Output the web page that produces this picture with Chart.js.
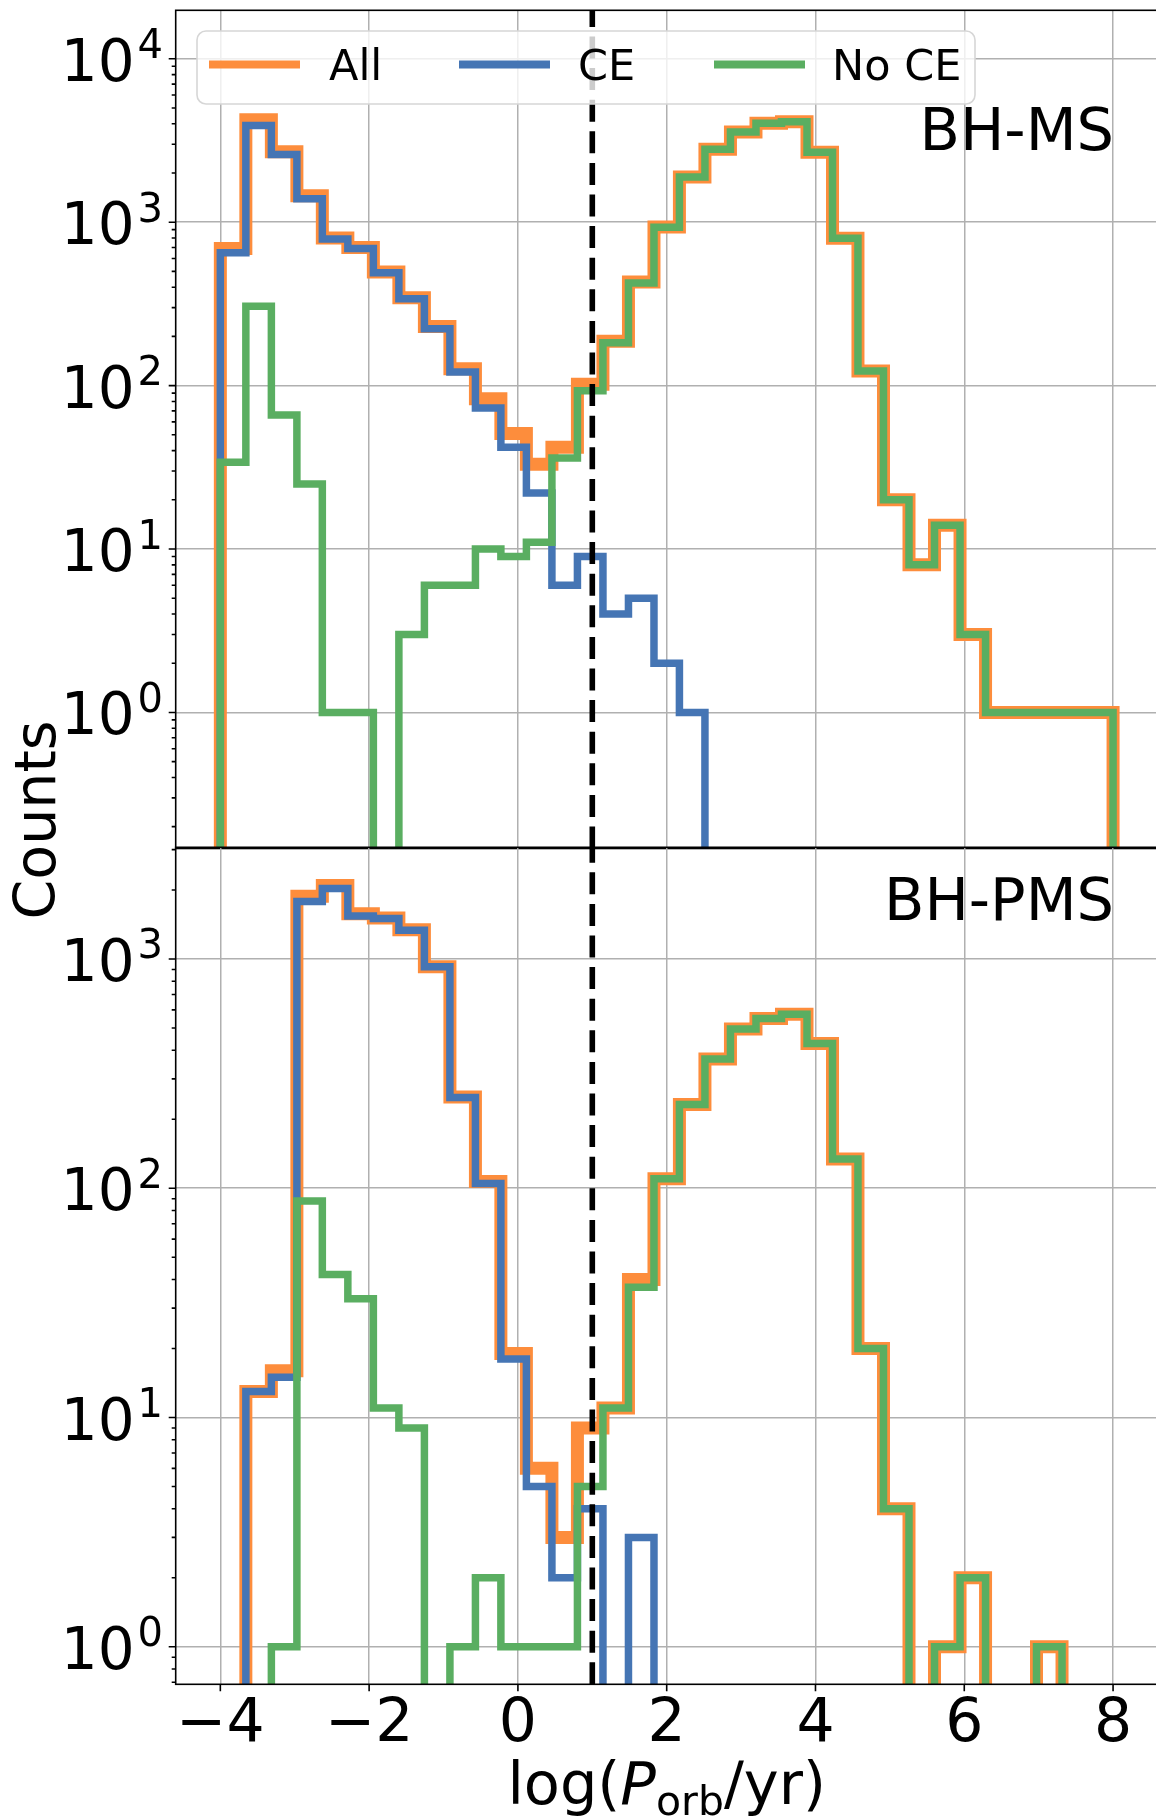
<!DOCTYPE html>
<html>
<head>
<meta charset="utf-8">
<script src="https://cdn.jsdelivr.net/npm/chart.js@4.4.0/dist/chart.umd.min.js"></script>
<style>
html, body { margin: 0; padding: 0; background: #fff; overflow: hidden; }
#wrap { position: relative; width: 1156px; height: 1818px; overflow: hidden; }
canvas { position: absolute; left: 0; top: 0; }
</style>
</head>
<body>
<div id="wrap">
  <canvas id="topChart" width="1160" height="1818"></canvas>
  <canvas id="bottomChart" width="1160" height="1818"></canvas>
</div>
<script>
// log10(P_orb / yr) bin edges, shared by both panels
const BIN_EDGES = [-4.000, -3.657, -3.314, -2.971, -2.629, -2.286, -1.943, -1.600, -1.257, -0.914,
  -0.571, -0.229, 0.114, 0.457, 0.800, 1.143, 1.486, 1.829, 2.171, 2.514, 2.857, 3.200,
  3.543, 3.886, 4.229, 4.571, 4.914, 5.257, 5.600, 5.943, 6.286, 6.629, 6.971, 7.314, 7.657, 8.000];

// BH-MS counts per bin
const MS_ALL  = [690, 4230, 2700, 1450, 800, 700, 495, 345, 230, 127, 83, 51, 33, 42, 102, 187, 430, 933,
  1891, 2790, 3560, 4030, 4120, 2680, 797, 123, 20, 8, 14, 3, 1, 1, 1, 1, 1];
const MS_CE   = [650, 3900, 2600, 1390, 790, 690, 490, 340, 223, 121, 73, 42, 22, 6, 9, 4, 5, 2,
  1, 0, 0, 0, 0, 0, 0, 0, 0, 0, 0, 0, 0, 0, 0, 0, 0];
const MS_NOCE = [34, 306, 66, 25, 1, 1, 0, 3, 6, 6, 10, 9, 11, 36, 93, 183, 425, 931,
  1890, 2790, 3560, 4030, 4120, 2680, 797, 123, 20, 8, 14, 3, 1, 1, 1, 1, 1];

// BH-PMS counts per bin
const PMS_ALL  = [0, 13, 16, 1880, 2090, 1575, 1511, 1342, 925, 250, 107, 19, 6, 3, 9, 11, 40, 110,
  232, 366, 495, 550, 574, 428, 134, 20, 4, 0, 1, 2, 0, 0, 1, 0, 0];
const PMS_CE   = [0, 13, 15, 1780, 2030, 1540, 1500, 1333, 925, 249, 105, 18, 5, 2, 4, 0, 3, 0,
  0, 0, 0, 0, 0, 0, 0, 0, 0, 0, 0, 0, 0, 0, 0, 0, 0];
const PMS_NOCE = [0, 0, 1, 88, 42, 33, 11, 9, 0, 1, 2, 1, 1, 1, 5, 11, 37, 110,
  232, 366, 495, 550, 574, 428, 134, 20, 4, 0, 1, 2, 0, 0, 1, 0, 0];

const SERIES_NAMES = ['All', 'CE', 'No CE'];
const PANEL_NAMES = ['BH-MS', 'BH-PMS'];

const X_TICKS = [-4, -2, 0, 2, 4, 6, 8];
const X_TICK_LABELS = ['\u22124', '\u22122', '0', '2', '4', '6', '8'];
const MS_Y_TICKS = [1, 10, 100, 1000, 10000];
const MS_Y_EXP = ['0', '1', '2', '3', '4'];
const PMS_Y_TICKS = [1, 10, 100, 1000];
const PMS_Y_EXP = ['0', '1', '2', '3'];
const CE_LIMIT = 1;   // dashed line, log P = 1

const X_MIN = -4.6, X_MAX = 8.6;
const MS_Y_MIN = 0.147, MS_Y_MAX = 19800;
const PMS_Y_MIN = 0.686, PMS_Y_MAX = 3070;

const COLORS = ['#fd8d3c', '#4575b4', '#5aae61'];
const WIDTHS = [13, 7.5, 7.5];
const FONT = '"DejaVu Sans", "Liberation Sans", sans-serif';
const ZERO_DRAW = 1e-3;   // empty bins are drawn below the axis, like matplotlib does

function stepPoints(counts) {
  const pts = [{ x: BIN_EDGES[0], y: ZERO_DRAW }];
  counts.forEach((c, i) => pts.push({ x: BIN_EDGES[i], y: c > 0 ? c : ZERO_DRAW }));
  pts.push({ x: BIN_EDGES[BIN_EDGES.length - 1], y: ZERO_DRAW });
  return pts;
}

function histDatasets(all, ce, noce) {
  return [all, ce, noce].map((counts, i) => ({
    label: SERIES_NAMES[i],
    data: stepPoints(counts),
    borderColor: COLORS[i],
    borderWidth: WIDTHS[i],
    order: 3 - i,
    stepped: 'before',
    pointRadius: 0,
    tension: 0,
    fill: false,
    borderJoinStyle: 'miter',
    borderCapStyle: 'butt',
    clip: 0
  }));
}

function drawDashed(chart) {
  const { ctx, chartArea: a } = chart;
  const px = chart.scales.x.getPixelForValue(CE_LIMIT);
  ctx.save();
  ctx.strokeStyle = '#000';
  ctx.lineWidth = 5.6;
  ctx.setLineDash([22, 9.6]);
  ctx.beginPath();
  ctx.moveTo(px, a.bottom);
  ctx.lineTo(px, a.top);
  ctx.stroke();
  ctx.restore();
}

function drawFrameAndYAxis(chart, yTicks, yExp) {
  const { ctx, chartArea: a } = chart;
  const ys = chart.scales.y;
  ctx.save();
  ctx.strokeStyle = '#000';
  ctx.fillStyle = '#000';
  ctx.lineWidth = 1.6;
  ctx.strokeRect(a.left, a.top, a.right - a.left, a.bottom - a.top);

  ctx.beginPath();
  const lo = Math.floor(Math.log10(ys.min)), hi = Math.ceil(Math.log10(ys.max));
  for (let e = lo; e <= hi; e++) {
    for (let m = 1; m <= 9; m++) {
      const v = m * Math.pow(10, e);
      if (v < ys.min || v > ys.max) continue;
      const py = ys.getPixelForValue(v);
      ctx.moveTo(a.left, py);
      ctx.lineTo(a.left - (m === 1 ? 7 : 4), py);
    }
  }
  ctx.stroke();

  ctx.textBaseline = 'alphabetic';
  ctx.textAlign = 'left';
  yTicks.forEach((v, i) => {
    const py = ys.getPixelForValue(v);
    const right = 163;
    ctx.font = '40px ' + FONT;
    const ew = ctx.measureText(yExp[i]).width;
    ctx.fillText(yExp[i], right - ew, py - 0.5);
    ctx.font = '58px ' + FONT;
    const bw = ctx.measureText('10').width;
    ctx.fillText('10', right - ew - 3 - bw, py + 22);
  });
  ctx.restore();
}

function drawPanelLabel(chart, text, baseline) {
  const { ctx } = chart;
  ctx.save();
  ctx.fillStyle = '#000';
  ctx.font = '59px ' + FONT;
  ctx.textAlign = 'right';
  ctx.textBaseline = 'alphabetic';
  ctx.fillText(text, 1114, baseline);
  ctx.restore();
}

function drawLegend(chart) {
  const { ctx } = chart;
  const x0 = 197, y0 = 31, x1 = 975, y1 = 104, r = 9;
  ctx.save();
  ctx.beginPath();
  ctx.moveTo(x0 + r, y0);
  ctx.arcTo(x1, y0, x1, y1, r);
  ctx.arcTo(x1, y1, x0, y1, r);
  ctx.arcTo(x0, y1, x0, y0, r);
  ctx.arcTo(x0, y0, x1, y0, r);
  ctx.closePath();
  ctx.fillStyle = 'rgba(255,255,255,0.8)';
  ctx.fill();
  ctx.strokeStyle = '#d6d6d6';
  ctx.lineWidth = 1.6;
  ctx.stroke();

  const lineX = [209, 459, 714];
  const textX = [329, 578, 832];
  ctx.lineWidth = 8;
  ctx.lineCap = 'butt';
  ctx.font = '43px ' + FONT;
  ctx.textBaseline = 'alphabetic';
  ctx.textAlign = 'left';
  SERIES_NAMES.forEach((name, i) => {
    ctx.strokeStyle = COLORS[i];
    ctx.beginPath();
    ctx.moveTo(lineX[i], 64.5);
    ctx.lineTo(lineX[i] + 91, 64.5);
    ctx.stroke();
    ctx.fillStyle = '#000';
    ctx.fillText(name, textX[i], 79.5);
  });
  ctx.restore();
}

function drawYTitle(chart) {
  const { ctx } = chart;
  ctx.save();
  ctx.translate(55, 820);
  ctx.rotate(-Math.PI / 2);
  ctx.fillStyle = '#000';
  ctx.font = '57px ' + FONT;
  ctx.textAlign = 'center';
  ctx.textBaseline = 'alphabetic';
  ctx.fillText('Counts', 0, 0);
  ctx.restore();
}

function drawXAxis(chart) {
  const { ctx, chartArea: a } = chart;
  const xs = chart.scales.x;
  ctx.save();
  ctx.strokeStyle = '#000';
  ctx.fillStyle = '#000';
  ctx.lineWidth = 1.6;
  ctx.beginPath();
  X_TICKS.forEach(v => {
    const px = xs.getPixelForValue(v);
    ctx.moveTo(px, a.bottom);
    ctx.lineTo(px, a.bottom + 7);
  });
  ctx.stroke();

  ctx.font = '60px ' + FONT;
  ctx.textAlign = 'center';
  ctx.textBaseline = 'alphabetic';
  X_TICKS.forEach((v, i) => ctx.fillText(X_TICK_LABELS[i], xs.getPixelForValue(v), 1741));

  // log(P_orb/yr)
  const parts = [
    { t: 'log(', f: '59px ' + FONT, dy: 0 },
    { t: 'P', f: 'italic 59px ' + FONT, dy: 0 },
    { t: 'orb', f: '41px ' + FONT, dy: 11 },
    { t: '/yr)', f: '59px ' + FONT, dy: 0 }
  ];
  let total = 0;
  parts.forEach(p => { ctx.font = p.f; p.w = ctx.measureText(p.t).width; total += p.w; });
  let x = (a.left + a.right) / 2 - total / 2;
  ctx.textAlign = 'left';
  parts.forEach(p => { ctx.font = p.f; ctx.fillText(p.t, x, 1804 + p.dy); x += p.w; });
  ctx.restore();
}

function baseOptions(yMin, yMax, yTicks, padding) {
  return {
    responsive: false,
    animation: false,
    devicePixelRatio: 1,
    layout: { padding: padding },
    plugins: { legend: { display: false }, tooltip: { enabled: false } },
    scales: {
      x: {
        type: 'linear',
        min: X_MIN,
        max: X_MAX,
        afterBuildTicks: s => { s.ticks = X_TICKS.map(v => ({ value: v })); },
        afterFit: s => { s.height = 0; },
        ticks: { display: false },
        border: { display: false },
        grid: { color: '#b0b0b0', lineWidth: 1.5, drawTicks: false }
      },
      y: {
        type: 'logarithmic',
        min: yMin,
        max: yMax,
        afterBuildTicks: s => { s.ticks = yTicks.map(v => ({ value: v })); },
        afterFit: s => { s.width = 0; },
        ticks: { display: false },
        border: { display: false },
        grid: { color: '#b0b0b0', lineWidth: 1.5, drawTicks: false }
      }
    }
  };
}

new Chart(document.getElementById('topChart').getContext('2d'), {
  type: 'line',
  data: { datasets: histDatasets(MS_ALL, MS_CE, MS_NOCE) },
  options: baseOptions(MS_Y_MIN, MS_Y_MAX, MS_Y_TICKS,
    { left: 175.7, right: 2.3, top: 10.3, bottom: 969.5 }),
  plugins: [{
    id: 'msDecor',
    afterDatasetsDraw(chart) {
      drawDashed(chart);
      drawFrameAndYAxis(chart, MS_Y_TICKS, MS_Y_EXP);
      drawLegend(chart);
      drawPanelLabel(chart, PANEL_NAMES[0], 150);
      drawYTitle(chart);
    }
  }]
});

new Chart(document.getElementById('bottomChart').getContext('2d'), {
  type: 'line',
  data: { datasets: histDatasets(PMS_ALL, PMS_CE, PMS_NOCE) },
  options: baseOptions(PMS_Y_MIN, PMS_Y_MAX, PMS_Y_TICKS,
    { left: 175.7, right: 2.3, top: 847.3, bottom: 133.7 }),
  plugins: [{
    id: 'pmsDecor',
    afterDatasetsDraw(chart) {
      drawDashed(chart);
      drawFrameAndYAxis(chart, PMS_Y_TICKS, PMS_Y_EXP);
      drawPanelLabel(chart, PANEL_NAMES[1], 920);
      drawXAxis(chart);
    }
  }]
});
</script>
</body>
</html>
